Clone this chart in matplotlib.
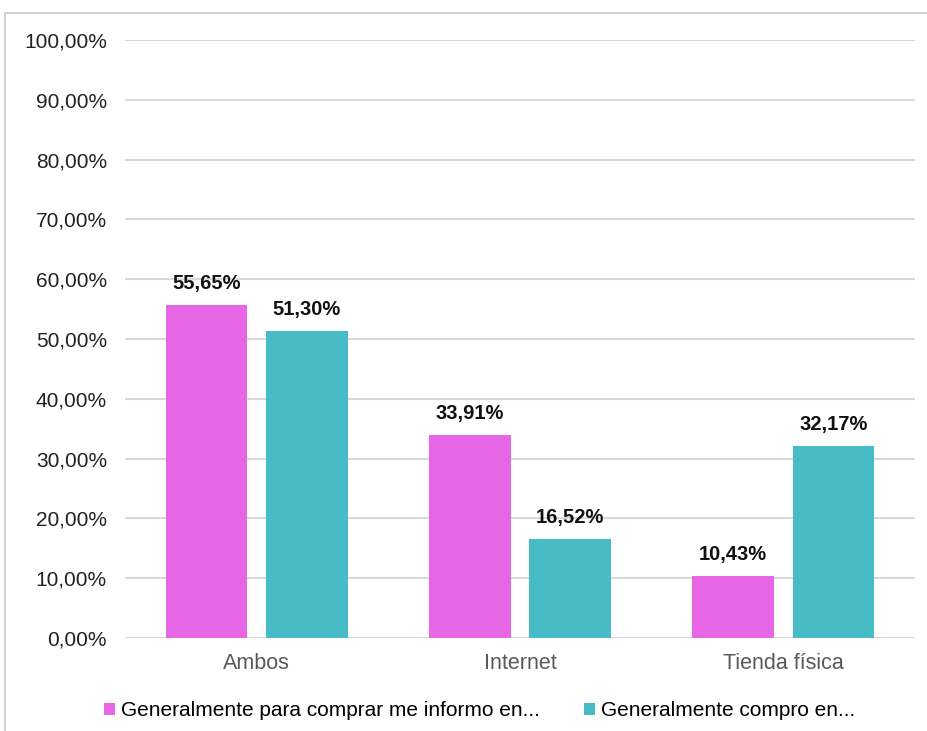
import numpy as np
import matplotlib.pyplot as plt
import matplotlib
from matplotlib.patches import Rectangle

matplotlib.rcParams.update({
    'font.family': ['Liberation Sans', 'DejaVu Sans'],
    'figure.dpi': 100,
    'figure.facecolor': 'white',
})

categories = ['Ambos', 'Internet', 'Tienda física']
series_names = ['Generalmente para comprar me informo en...', 'Generalmente compro en...']
informo = [55.65, 33.91, 10.43]
compro = [51.30, 16.52, 32.17]
colors = ['#E666E6', '#48BCC6']

fig = plt.figure(figsize=(9.28, 7.31))
ax = fig.add_axes([0.1347, 0.1272, 0.8513, 0.8181])

# outer chart frame
fig.patches.append(Rectangle((0.0054, -0.1), 1.2, 1.082, transform=fig.transFigure,
                             fill=False, edgecolor='#C8C8C8', linewidth=1.2))

x = np.arange(len(categories))
offset = 0.19
width = 0.31
for vals, dx, c, name in [(informo, -offset, colors[0], series_names[0]),
                          (compro, offset, colors[1], series_names[1])]:
    bars = ax.bar(x + dx, vals, width, color=c, label=name, zorder=3)
    for b, v in zip(bars, vals):
        ax.text(b.get_x() + b.get_width() / 2, v + 2.0, f'{v:.2f}%'.replace('.', ','),
                ha='center', va='bottom', fontsize=14.5, fontweight='bold', color='#111111')

ax.set_xlim(-0.5, 2.5)
ax.set_ylim(0, 100)
ax.set_yticks(np.arange(0, 101, 10))
ax.set_yticklabels([f'{t:.2f}%'.replace('.', ',') for t in np.arange(0, 101, 10)])
ax.set_xticks(x)
ax.set_xticklabels(categories)
ax.grid(axis='y', color='#D9D9D9', linewidth=1.5, zorder=0)
for s in ax.spines.values():
    s.set_visible(False)
ax.tick_params(axis='y', length=0, pad=13, labelsize=15, labelcolor='#222222')
ax.tick_params(axis='x', length=0, pad=11, labelsize=15.5, labelcolor='#595959')

ax.legend(loc='upper center', bbox_to_anchor=(0.449, -0.074), ncol=2, frameon=False,
          fontsize=15, handlelength=0.5, handleheight=0.5, handletextpad=0.3,
          columnspacing=2.15)

plt.savefig('out.png')
